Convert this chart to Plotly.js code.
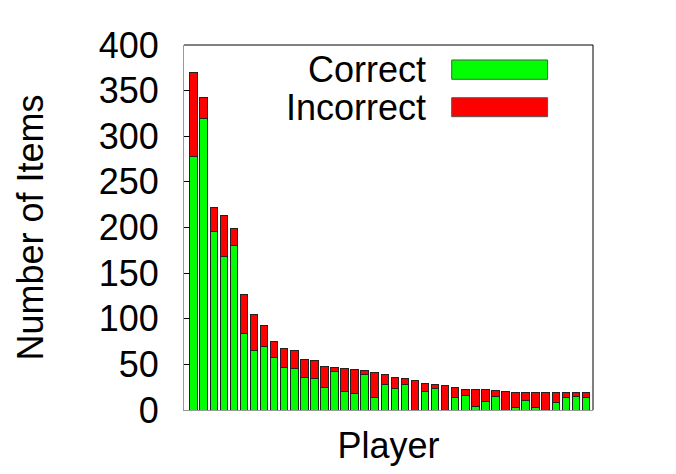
<!DOCTYPE html>
<html>
<head>
<meta charset="utf-8">
<script src="https://cdn.plot.ly/plotly-3.0.1.min.js"></script>
<style>
  body { margin: 0; background: #fff; }
  #chart { width: 676px; height: 474px; }
</style>
</head>
<body>
<div id="chart"></div>
<script>
// Gracze (1..40), posortowani wg liczby elementów
const players = [];
for (let i = 1; i <= 40; i++) players.push(i);

const correct = [278, 319, 196, 168, 180, 84, 65, 70, 57, 47,
                 46, 36, 35, 25, 42, 20, 18, 39, 14, 28,
                 24, 28, 0, 20, 24, 0, 14, 16, 4, 9,
                 15, 0, 3, 10, 3, 0, 8, 14, 15, 14];
const incorrect = [92, 24, 26, 45, 19, 43, 40, 23, 18, 20,
                   19, 19, 19, 23, 5, 25, 26, 4, 27, 11,
                   12, 6, 32, 9, 4, 27, 11, 7, 19, 13,
                   6, 20, 16, 9, 16, 19, 11, 5, 4, 5];

const font = "Liberation Sans, Arial, Helvetica, sans-serif";

const correctTrace = {
  type: 'bar',
  x: players,
  y: correct,
  name: 'Correct',
  width: 0.75,
  marker: { color: '#00ff00', line: { color: '#222222', width: 1 } },
  showlegend: false
};

const incorrectTrace = {
  type: 'bar',
  x: players,
  y: incorrect,
  name: 'Incorrect',
  width: 0.75,
  marker: { color: '#ff0000', line: { color: '#222222', width: 1 } },
  showlegend: false
};

const layout = {
  width: 676,
  height: 474,
  barmode: 'stack',
  margin: { l: 184, r: 83, t: 45, b: 64 },
  paper_bgcolor: '#fff',
  plot_bgcolor: '#fff',
  font: { family: font, size: 36, color: '#000' },
  xaxis: {
    range: [0.04, 40.7],
    showticklabels: false,
    ticks: '',
    showgrid: false,
    zeroline: false,
    showline: true,
    linecolor: '#999999',
    linewidth: 1,
    title: { text: 'Player', font: { size: 36 }, standoff: 22 }
  },
  yaxis: {
    range: [0, 400],
    dtick: 50,
    ticks: 'inside',
    ticklen: 6,
    tickcolor: '#000',
    ticklabelstandoff: 17,
    showgrid: false,
    zeroline: false,
    showline: true,
    linecolor: '#999999',
    linewidth: 1,
    tickfont: { size: 36 },
    title: { text: 'Number of Items', font: { size: 36 }, standoff: 44 }
  },
  yaxis2: {
    overlaying: 'y',
    side: 'right',
    range: [0, 400],
    dtick: 50,
    ticks: 'inside',
    ticklen: 6,
    tickcolor: '#000',
    showticklabels: false,
    showgrid: false,
    zeroline: false,
    showline: true,
    linecolor: '#000',
    linewidth: 1
  },
  shapes: [
    // górna krawędź ramki
    { type: 'line', xref: 'paper', yref: 'paper', x0: 0, x1: 1, y0: 1, y1: 1,
      line: { color: '#000', width: 1 } },
    // prawa krawędź ramki
    { type: 'line', xref: 'paper', yref: 'paper', x0: 1, x1: 1, y0: 0, y1: 1,
      line: { color: '#000', width: 1 } },
    // legenda
    { type: 'rect', xref: 'paper', yref: 'paper', x0: 0.6545, x1: 0.889, y0: 0.906, y1: 0.959,
      fillcolor: '#00ff00', line: { color: '#555', width: 1 } },
    { type: 'rect', xref: 'paper', yref: 'paper', x0: 0.6545, x1: 0.889, y0: 0.8036, y1: 0.8556,
      fillcolor: '#ff0000', line: { color: '#555', width: 1 } }
  ],
  annotations: [
    { xref: 'paper', yref: 'paper', x: 0.597, y: 0.932, xanchor: 'right', yanchor: 'middle',
      text: 'Correct', showarrow: false, font: { size: 36 } },
    { xref: 'paper', yref: 'paper', x: 0.597, y: 0.8296, xanchor: 'right', yanchor: 'middle',
      text: 'Incorrect', showarrow: false, font: { size: 36 } }
  ]
};

Plotly.newPlot('chart', [correctTrace, incorrectTrace], layout, { staticPlot: true });
</script>
</body>
</html>
